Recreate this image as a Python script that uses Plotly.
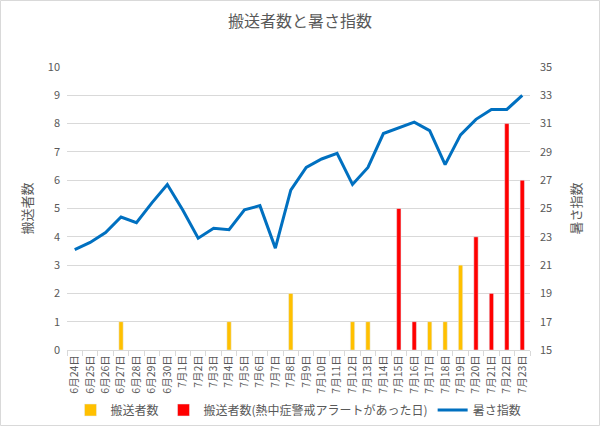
import plotly.graph_objects as go

dates = ["6月24日","6月25日","6月26日","6月27日","6月28日","6月29日","6月30日",
         "7月1日","7月2日","7月3日","7月4日","7月5日","7月6日","7月7日","7月8日",
         "7月9日","7月10日","7月11日","7月12日","7月13日","7月14日","7月15日",
         "7月16日","7月17日","7月18日","7月19日","7月20日","7月21日","7月22日","7月23日"]
normal = [None,None,None,1,None,None,None,None,None,None,1,None,None,None,2,
          None,None,None,1,1,None,None,None,1,1,3,None,None,None,None]
alert = [None]*21 + [5,1,None,None,None,4,2,8,6]
heat = [22.1,22.6,23.3,24.4,24.0,25.4,26.7,24.9,22.9,23.6,23.5,24.9,25.2,22.2,26.3,
        27.9,28.5,28.9,26.7,27.9,30.3,30.7,31.1,30.5,28.1,30.2,31.3,32.0,32.0,33.0]

W, H = 600, 427
ml, mr, mt, mb = 67, 70, 67, 77
pw, ph = W - ml - mr, H - mt - mb
gray = "#595959"
font = "Noto Sans CJK JP"

fig = go.Figure()
fig.add_trace(go.Bar(x=dates, y=normal, name="搬送者数", marker_color="#FFC000", width=0.28))
fig.add_trace(go.Bar(x=dates, y=alert, name="搬送者数(熱中症警戒アラートがあった日)", marker_color="#FF0000", width=0.28))
fig.add_trace(go.Scatter(x=dates, y=heat, name="暑さ指数", yaxis="y2", mode="lines",
                         line=dict(color="#0070C0", width=3)))

fig.update_layout(
    width=W, height=H,
    margin=dict(l=ml, r=mr, t=mt, b=mb, autoexpand=False),
    paper_bgcolor="white", plot_bgcolor="white",
    font=dict(family=font, color=gray, size=11),
    barmode="overlay",
    title=dict(text="搬送者数と暑さ指数", x=0.5, xanchor="center", y=0.95, yanchor="middle",
               font=dict(size=16, color=gray, family=font)),
    xaxis=dict(type="category", tickangle=-90, showgrid=False, showline=True, automargin=False,
               linecolor="#D9D9D9", ticks="outside", tickson="boundaries",
               tickcolor="#D9D9D9", ticklen=5, tickfont=dict(size=10.5, color=gray)),
    yaxis=dict(range=[0, 10], dtick=1, showgrid=True, gridcolor="#D9D9D9", zeroline=False,
               automargin=False, ticklabelstandoff=6,
               title=dict(text="搬送者数", font=dict(size=13, color=gray), standoff=12),
               tickfont=dict(size=11, color=gray), ticks="", showline=False),
    yaxis2=dict(range=[15, 35], tick0=15, dtick=2, overlaying="y", side="right", showgrid=False,
                zeroline=False, automargin=False, ticklabelstandoff=9,
                title=dict(text="暑さ指数", font=dict(size=13, color=gray), standoff=20),
                tickfont=dict(size=11, color=gray), ticks="", showline=False),
    legend=dict(orientation="h", x=0.5, xanchor="center", y=(-(410 - mt - ph) / ph),
                yanchor="middle", font=dict(size=12, color=gray), traceorder="normal"),
    showlegend=True,
    shapes=[dict(type="rect", xref="paper", yref="paper",
                 x0=-(ml - 0.5) / pw, x1=(W - ml - 0.5) / pw,
                 y0=-(mb - 1.5) / ph, y1=(H - mb - 0.5) / ph,
                 line=dict(color="#D9D9D9", width=1), fillcolor="rgba(0,0,0,0)", layer="below")],
)
fig.write_html("out.html")
